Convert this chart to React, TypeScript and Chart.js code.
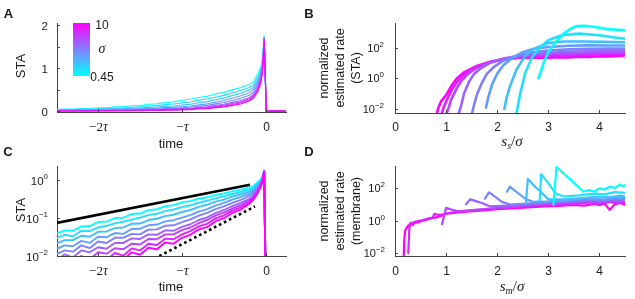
import React, { useEffect, useRef } from 'react';
import { Chart, registerables } from 'chart.js';
Chart.register(...registerables);

const SANS = '"Liberation Sans", Arial, Helvetica, sans-serif';
const SERIF = '"Liberation Serif", "Times New Roman", serif';
const AXIS = '#444444';
const TEXT = '#1a1a1a';

// colours from sigma = 0.45 (cyan) to sigma = 10 (magenta)
const COLORS = ['#00ffff', '#20dfff', '#40bfff', '#609fff', '#8080ff', '#9f60ff', '#bf40ff', '#df20ff', '#ff00ff'];

// ---------- Panels A / C : STA vs time (units of tau) ----------
const STA_TIME = [-2.5, -2.4, -2.3, -2.2, -2.1, -2.0, -1.9, -1.8, -1.7, -1.6, -1.5, -1.4, -1.3, -1.2, -1.1, -1.0, -0.9, -0.8, -0.7, -0.6, -0.5, -0.4, -0.3, -0.2, -0.15, -0.1, -0.06, -0.04, -0.02, 0.005, 0.24];
const STA_S0 = [0.038, 0.047, 0.046, 0.060, 0.061, 0.078, 0.080, 0.099, 0.101, 0.126, 0.130, 0.160, 0.169, 0.202, 0.216, 0.255, 0.276, 0.318, 0.347, 0.398, 0.436, 0.495, 0.55, 0.62, 0.68, 0.85, 1.02, 1.22, 1.74, 0, 0];
const STA_S1 = [0.029, 0.036, 0.033, 0.046, 0.045, 0.056, 0.062, 0.072, 0.079, 0.090, 0.102, 0.118, 0.128, 0.151, 0.166, 0.192, 0.214, 0.250, 0.281, 0.325, 0.367, 0.423, 0.478, 0.55, 0.60, 0.78, 0.96, 1.17, 1.73, 0, 0];
const STA_S2 = [0.021, 0.026, 0.026, 0.034, 0.032, 0.043, 0.044, 0.054, 0.056, 0.070, 0.071, 0.088, 0.095, 0.111, 0.121, 0.143, 0.161, 0.195, 0.221, 0.266, 0.303, 0.362, 0.418, 0.49, 0.55, 0.72, 0.92, 1.12, 1.72, 0, 0];
const STA_S3 = [0.015, 0.019, 0.018, 0.025, 0.022, 0.032, 0.031, 0.040, 0.038, 0.051, 0.052, 0.064, 0.067, 0.081, 0.087, 0.102, 0.118, 0.146, 0.170, 0.209, 0.247, 0.301, 0.357, 0.43, 0.50, 0.66, 0.87, 1.08, 1.71, 0, 0];
const STA_S4 = [0.011, 0.014, 0.013, 0.019, 0.016, 0.024, 0.022, 0.030, 0.030, 0.038, 0.037, 0.049, 0.050, 0.062, 0.064, 0.077, 0.091, 0.114, 0.135, 0.169, 0.201, 0.249, 0.298, 0.37, 0.44, 0.60, 0.82, 1.04, 1.70, 0, 0];
const STA_S5 = [0.0078, 0.011, 0.0092, 0.014, 0.0125, 0.017, 0.0155, 0.022, 0.022, 0.029, 0.028, 0.037, 0.036, 0.047, 0.046, 0.058, 0.068, 0.088, 0.103, 0.134, 0.161, 0.204, 0.248, 0.31, 0.38, 0.55, 0.77, 1.00, 1.69, 0, 0];
const STA_S6 = [0.0052, 0.0078, 0.0065, 0.0100, 0.0082, 0.0125, 0.0115, 0.0160, 0.0150, 0.0210, 0.0200, 0.0280, 0.0275, 0.037, 0.037, 0.048, 0.056, 0.073, 0.088, 0.115, 0.138, 0.176, 0.215, 0.29, 0.35, 0.51, 0.73, 0.96, 1.67, 0, 0];
const STA_S7 = [0.0036, 0.0052, 0.0043, 0.0070, 0.0058, 0.0090, 0.0078, 0.0120, 0.0102, 0.0158, 0.0140, 0.0210, 0.0195, 0.0285, 0.0275, 0.037, 0.045, 0.060, 0.070, 0.097, 0.117, 0.155, 0.190, 0.26, 0.32, 0.47, 0.70, 0.93, 1.65, 0, 0];
const STA_S8 = [0.0027, 0.0040, 0.0033, 0.0055, 0.0044, 0.0070, 0.0060, 0.0095, 0.0080, 0.0125, 0.0108, 0.0165, 0.0150, 0.0225, 0.0210, 0.030, 0.036, 0.050, 0.057, 0.082, 0.098, 0.135, 0.165, 0.235, 0.30, 0.44, 0.65, 0.90, 1.60, 0, 0];
const STA_CURVES = [STA_S0, STA_S1, STA_S2, STA_S3, STA_S4, STA_S5, STA_S6, STA_S7, STA_S8];

const BOUND_T = [-2.5, -0.19];
const BOUND_V = [0.073, 0.74];
const SLOPE_T = [-1.27, -0.13];
const SLOPE_V = [0.01, 0.2];

const TIME_TICKS = [-2, -1, 0];
const TIME_LABELS = ['−2τ', '−τ', '0'];
const A_Y_TICKS = [0, 0.5, 1, 1.5, 2];
const A_Y_LABELS = ['0', '', '1', '', '2'];
const C_Y_TICKS = [0.01, 0.1, 1];
const C_Y_LABELS = ['10^−2', '10^−1', '10^0'];

// ---------- Panel B : rate vs s_s / sigma ----------
const B_X0 = [2.81, 2.91, 3.0, 3.14, 3.3, 3.45, 3.56, 3.7, 3.89, 4.15, 4.35, 4.5];
const B_Y0 = [1.0, 10.5, 49, 225, 810, 1800, 2500, 2600, 2300, 1600, 1450, 1350];
const B_X1 = [2.37, 2.45, 2.55, 2.68, 2.84, 3.0, 3.26, 3.6, 4.0, 4.3, 4.5];
const B_Y1 = [0.004, 0.1, 2.3, 23, 105, 300, 630, 810, 630, 450, 380];
const B_X2 = [2.14, 2.18, 2.25, 2.38, 2.55, 2.71, 3.0, 3.3, 3.7, 4.1, 4.5];
const B_Y2 = [0.01, 0.05, 0.3, 3.8, 30, 80, 200, 250, 250, 235, 220];
const B_X3 = [1.78, 1.82, 1.9, 2.0, 2.12, 2.3, 2.5, 2.7, 3.0, 3.4, 3.8, 4.2, 4.5];
const B_Y3 = [0.012, 0.05, 0.4, 2, 7, 22, 50, 80, 110, 130, 138, 137, 135];
const B_X4 = [1.5, 1.55, 1.6, 1.7, 1.8, 1.95, 2.12, 2.4, 2.7, 3.0, 3.4, 3.8, 4.2, 4.5];
const B_Y4 = [0.004, 0.02, 0.08, 0.5, 2, 6, 14, 30, 50, 65, 76, 82, 85, 85];
const B_X5 = [1.24, 1.3, 1.35, 1.45, 1.55, 1.7, 1.86, 2.12, 2.4, 2.8, 3.2, 3.6, 4.0, 4.5];
const B_Y5 = [0.004, 0.02, 0.1, 0.6, 2, 5, 10, 19, 28, 40, 50, 56, 59, 60];
const B_X6 = [1.0, 1.05, 1.1, 1.2, 1.3, 1.45, 1.6, 1.86, 2.12, 2.4, 2.8, 3.2, 3.6, 4.0, 4.5];
const B_Y6 = [0.004, 0.012, 0.04, 0.2, 0.7, 2.2, 4.8, 11, 18, 25, 33, 38, 41, 44, 47];
const B_X7 = [0.9, 0.95, 1.0, 1.1, 1.2, 1.3, 1.45, 1.6, 1.86, 2.12, 2.4, 2.8, 3.2, 3.6, 4.0, 4.5];
const B_Y7 = [0.003, 0.012, 0.03, 0.15, 0.5, 1.2, 3, 5.5, 11, 17, 22, 26, 29, 32, 35, 38];
const B_X8 = [0.8, 0.85, 0.9, 1.0, 1.1, 1.2, 1.34, 1.6, 1.86, 2.12, 2.4, 2.8, 3.0, 3.2, 3.4, 3.6, 3.8, 4.0, 4.2, 4.5];
const B_Y8 = [0.003, 0.012, 0.03, 0.08, 0.3, 0.9, 2.3, 6.3, 12, 18, 21, 22, 21.5, 23.5, 22.5, 25, 24, 27, 26.5, 31];
const B_XS = [B_X0, B_X1, B_X2, B_X3, B_X4, B_X5, B_X6, B_X7, B_X8];
const B_YS = [B_Y0, B_Y1, B_Y2, B_Y3, B_Y4, B_Y5, B_Y6, B_Y7, B_Y8];

// ---------- Panel D : rate vs s_m / sigma ----------
const D_X0 = [3.1, 3.16, 3.4, 3.69, 3.8, 3.9, 4.0, 4.1, 4.2, 4.3, 4.4, 4.45, 4.5];
const D_Y0 = [8.7, 1950, 400, 59, 75, 60, 95, 80, 120, 100, 160, 130, 150];
const D_X1 = [2.83, 2.86, 3.0, 3.14, 3.3, 3.6, 3.9, 4.1, 4.3, 4.5];
const D_Y1 = [16, 700, 200, 47, 30, 35, 45, 40, 55, 50];
const D_X2 = [2.56, 2.6, 2.75, 2.88, 3.0, 3.3, 3.7, 4.0, 4.2, 4.4, 4.5];
const D_Y2 = [11, 360, 110, 47, 20, 20, 25, 30, 27, 34, 30];
const D_X3 = [2.19, 2.25, 2.4, 2.55, 2.7, 3.0, 3.4, 3.8, 4.1, 4.3, 4.5];
const D_Y3 = [59, 120, 50, 22, 14, 15, 18, 22, 20, 26, 24];
const D_X4 = [1.76, 1.84, 1.95, 2.09, 2.25, 2.6, 3.0, 3.4, 3.8, 4.1, 4.3, 4.5];
const D_Y4 = [22, 54, 30, 14, 9.5, 11, 13.5, 16, 19, 17, 22, 20];
const D_X5 = [1.39, 1.47, 1.6, 1.7, 1.85, 2.2, 2.6, 3.0, 3.4, 3.8, 4.0, 4.2, 4.35, 4.5];
const D_Y5 = [10, 20, 15, 12, 7.5, 8.2, 9.8, 12, 14, 17, 15, 19, 16, 20];
const D_X6 = [0.92, 0.97, 1.0, 1.1, 1.2, 1.3, 1.5, 1.8, 2.2, 2.6, 3.0, 3.4, 3.8, 4.0, 4.2, 4.35, 4.5];
const D_Y6 = [0.6, 2.5, 6, 4.8, 3.9, 3.8, 4.3, 5.3, 6.7, 8.2, 10, 12, 14, 12, 16, 13, 17];
const D_X7 = [0.26, 0.28, 0.3, 0.35, 0.4, 0.5, 0.6, 0.7, 0.74, 0.77, 0.85, 0.95, 1.1, 1.3, 1.6, 2.0, 2.4, 2.8, 3.2, 3.6, 3.8, 4.0, 4.2, 4.3, 4.4, 4.5];
const D_Y7 = [0.01, 0.3, 0.7, 0.75, 0.85, 1.0, 1.2, 1.45, 1.5, 2.6, 2.2, 2.4, 3.1, 3.6, 4.3, 5.5, 6.8, 8.3, 9.6, 11, 13, 10, 14, 12, 15, 13];
const D_X8 = [0.17, 0.18, 0.2, 0.22, 0.25, 0.3, 0.35, 0.4, 0.45, 0.5, 0.6, 0.7, 0.8, 0.9, 1.0, 1.2, 1.4, 1.6, 1.8, 2.0, 2.3, 2.6, 2.9, 3.2, 3.5, 3.7, 3.9, 4.0, 4.1, 4.2, 4.3, 4.4, 4.5];
const D_Y8 = [0.004, 0.06, 0.25, 0.32, 0.45, 0.6, 0.55, 0.8, 0.75, 0.9, 1.1, 1.35, 1.55, 1.9, 2.6, 3.0, 3.5, 3.9, 4.4, 5.0, 5.6, 6.4, 7.4, 8.0, 9.0, 8.2, 10.5, 8.8, 11, 4.5, 10, 12, 9.5];
const D_XS = [D_X0, D_X1, D_X2, D_X3, D_X4, D_X5, D_X6, D_X7, D_X8];
const D_YS = [D_Y0, D_Y1, D_Y2, D_Y3, D_Y4, D_Y5, D_Y6, D_Y7, D_Y8];

const S_TICKS = [0, 1, 2, 3, 4];
const S_LABELS = ['0', '1', '2', '3', '4'];
const R_Y_TICKS = [0.01, 1, 100];
const R_Y_LABELS = ['10^−2', '10^0', '10^2'];

// ---------- drawing helpers ----------
function drawLabel(ctx: CanvasRenderingContext2D, label: string, x: number, yc: number, align: 'center' | 'right', size: number) {
  if (!label) return;
  const runs: { t: string; f: string; dy: number }[] = [];
  if (label.includes('^')) {
    const [b, e] = label.split('^');
    runs.push({ t: b, f: `${size}px ${SANS}`, dy: 0 });
    runs.push({ t: e, f: `${Math.round(size * 0.7)}px ${SANS}`, dy: -size * 0.48 });
  } else if (label.endsWith('τ')) {
    const pre = label.slice(0, -1);
    if (pre) runs.push({ t: pre, f: `${size + 1}px ${SERIF}`, dy: 0 });
    runs.push({ t: 'τ', f: `italic ${size + 2}px ${SERIF}`, dy: 0 });
  } else {
    runs.push({ t: label, f: `${size}px ${SANS}`, dy: 0 });
  }
  let w = 0;
  for (const r of runs) { ctx.font = r.f; w += ctx.measureText(r.t).width; }
  let cx = align === 'center' ? x - w / 2 : x - w;
  const base = yc + size * 0.36;
  ctx.fillStyle = TEXT;
  ctx.textBaseline = 'alphabetic';
  ctx.textAlign = 'left';
  for (const r of runs) {
    ctx.font = r.f;
    ctx.fillText(r.t, cx, base + r.dy);
    cx += ctx.measureText(r.t).width;
  }
}

type TickCfg = { xTicks: number[]; xLabels: string[]; yTicks: number[]; yLabels: string[]; xSize: number; ySize: number; xGap: number; yGap: number };

function makeTickPlugin(c: TickCfg) {
  return {
    id: 'richTicks',
    afterDraw(chart: any) {
      const { ctx, chartArea, scales } = chart;
      ctx.save();
      ctx.strokeStyle = AXIS;
      ctx.lineWidth = 1;
      c.xTicks.forEach((v, i) => {
        const px = Math.round(scales.x.getPixelForValue(v)) + 0.5;
        ctx.beginPath();
        ctx.moveTo(px, chartArea.bottom);
        ctx.lineTo(px, chartArea.bottom - 3);
        ctx.stroke();
        drawLabel(ctx, c.xLabels[i], px, chartArea.bottom + c.xGap, 'center', c.xSize);
      });
      c.yTicks.forEach((v, i) => {
        const py = Math.round(scales.y.getPixelForValue(v)) + 0.5;
        ctx.beginPath();
        ctx.moveTo(chartArea.left, py);
        ctx.lineTo(chartArea.left + 3, py);
        ctx.stroke();
        drawLabel(ctx, c.yLabels[i], chartArea.left - c.yGap, py, 'right', c.ySize);
      });
      ctx.restore();
    },
  };
}

function scale(type: string, min: number, max: number, axis: 'x' | 'y', size: number) {
  return {
    type, min, max,
    afterFit: (s: any) => { if (axis === 'x') s.height = size; else s.width = size; },
    grid: { display: false, drawTicks: false },
    border: { display: true, color: AXIS, width: 1 },
    ticks: { display: false },
  };
}

type PanelCfg = {
  left: number; top: number; width: number; height: number;
  padding: { left: number; top: number; right: number; bottom: number };
  x: any; y: any; datasets: any[]; ticks: TickCfg;
};

function Panel({ cfg }: { cfg: PanelCfg }) {
  const ref = useRef<HTMLCanvasElement>(null);
  useEffect(() => {
    const chart = new Chart(ref.current as HTMLCanvasElement, {
      type: 'scatter',
      data: { datasets: cfg.datasets },
      options: {
        responsive: false,
        animation: false,
        devicePixelRatio: 1,
        events: [],
        layout: { padding: cfg.padding, autoPadding: false } as any,
        plugins: { legend: { display: false }, tooltip: { enabled: false } },
        scales: { x: cfg.x, y: cfg.y },
      } as any,
      plugins: [makeTickPlugin(cfg.ticks) as any],
    });
    return () => chart.destroy();
  }, []);
  return (
    <canvas ref={ref} width={cfg.width} height={cfg.height}
      style={{ position: 'absolute', left: cfg.left, top: cfg.top, width: cfg.width, height: cfg.height }} />
  );
}

function line(points: { x: number; y: number }[], color: string, width: number, extra: any = {}) {
  return {
    data: points, borderColor: color, backgroundColor: color, borderWidth: width,
    showLine: true, pointRadius: 0, tension: 0, clip: 0,
    borderJoinStyle: 'round', borderCapStyle: 'round', ...extra,
  };
}

const ORDER_MAGENTA_TOP = [8, 7, 6, 5, 4, 3, 2, 1, 0];
const ORDER_CYAN_TOP = [0, 1, 2, 3, 4, 5, 6, 7, 8];

const cfgA: PanelCfg = {
  left: 0, top: 0, width: 300, height: 150,
  padding: { left: 7, top: 23, right: 14, bottom: 8 },
  x: scale('linear', -2.49, 0.24, 'x', 30),
  y: scale('linear', -0.02, 2.05, 'y', 50),
  datasets: ORDER_MAGENTA_TOP.map((k) =>
    line(STA_TIME.map((t, i) => ({ x: t, y: STA_CURVES[k][i] })), COLORS[k], 1.1)),
  ticks: { xTicks: TIME_TICKS, xLabels: TIME_LABELS, yTicks: A_Y_TICKS, yLabels: A_Y_LABELS, xSize: 12, ySize: 11.5, xGap: 14.5, yGap: 9 },
};

const cfgC: PanelCfg = {
  left: 0, top: 150, width: 300, height: 149,
  padding: { left: 7, top: 16, right: 14, bottom: 13 },
  x: scale('linear', -2.49, 0.24, 'x', 30),
  y: scale('logarithmic', 0.01, 2.3, 'y', 50),
  datasets: [
    line(BOUND_T.map((t, i) => ({ x: t, y: BOUND_V[i] })), '#000000', 2.6, { borderCapStyle: 'butt' }),
    line(SLOPE_T.map((t, i) => ({ x: t, y: SLOPE_V[i] })), '#000000', 2.6, { borderDash: [2.6, 3], borderCapStyle: 'butt' }),
    ...ORDER_MAGENTA_TOP.map((k) =>
      line(STA_TIME.slice(0, -1).map((t, i) => ({ x: t, y: STA_CURVES[k][i] === 0 ? 1e-4 : STA_CURVES[k][i] })), COLORS[k], 1.9)),
  ],
  ticks: { xTicks: TIME_TICKS, xLabels: TIME_LABELS, yTicks: C_Y_TICKS, yLabels: C_Y_LABELS, xSize: 12, ySize: 11.5, xGap: 15, yGap: 9 },
};

const cfgB: PanelCfg = {
  left: 310, top: 0, width: 325, height: 150,
  padding: { left: 35, top: 23, right: 10, bottom: 7 },
  x: scale('linear', 0, 4.5, 'x', 30),
  y: scale('logarithmic', 0.0054, 4000, 'y', 50),
  datasets: ORDER_CYAN_TOP.map((k) =>
    line(B_XS[k].map((x, i) => ({ x, y: B_YS[k][i] })), COLORS[k], 2.6)),
  ticks: { xTicks: S_TICKS, xLabels: S_LABELS, yTicks: R_Y_TICKS, yLabels: R_Y_LABELS, xSize: 12, ySize: 11, xGap: 14, yGap: 11 },
};

const cfgD: PanelCfg = {
  left: 310, top: 150, width: 325, height: 149,
  padding: { left: 35, top: 16, right: 10, bottom: 13 },
  x: scale('linear', 0, 4.5, 'x', 30),
  y: scale('logarithmic', 0.0066, 2240, 'y', 50),
  datasets: ORDER_CYAN_TOP.map((k) =>
    line(D_XS[k].map((x, i) => ({ x, y: D_YS[k][i] })), COLORS[k], 2.2)),
  ticks: { xTicks: S_TICKS, xLabels: S_LABELS, yTicks: R_Y_TICKS, yLabels: R_Y_LABELS, xSize: 12, ySize: 11, xGap: 15, yGap: 10 },
};

function Txt({ x, y, children, size = 13, bold = false, rotate = false, family = SANS, italic = false }: any) {
  return (
    <div style={{
      position: 'absolute', left: x, top: y, whiteSpace: 'nowrap', lineHeight: 1,
      transform: `translate(-50%, -50%)${rotate ? ' rotate(-90deg)' : ''}`,
      fontFamily: family, fontSize: size, fontWeight: bold ? 700 : 400,
      fontStyle: italic ? 'italic' : 'normal', color: TEXT,
    }}>{children}</div>
  );
}

function SLabel({ sub }: { sub: string }) {
  return (
    <span style={{ fontFamily: SERIF, fontSize: 15 }}>
      <i>s</i><i style={{ fontSize: 10, position: 'relative', top: 3 }}>{sub}</i>/<i>σ</i>
    </span>
  );
}

export default function App() {
  return (
    <div style={{ position: 'absolute', left: 0, top: 0, width: 635, height: 299, background: '#ffffff', overflow: 'hidden' }}>
      <Panel cfg={cfgA} />
      <Panel cfg={cfgB} />
      <Panel cfg={cfgC} />
      <Panel cfg={cfgD} />

      {/* colorbar */}
      <div style={{ position: 'absolute', left: 73, top: 23, width: 17, height: 53, background: 'linear-gradient(to bottom, #ff00ff, #8080ff, #00ffff)' }} />
      <Txt x={102} y={25} size={12}>10</Txt>
      <Txt x={102} y={49} size={14} family={SERIF} italic>σ</Txt>
      <Txt x={102} y={77} size={12}>0.45</Txt>

      {/* panel letters */}
      <Txt x={8.5} y={12.5} size={13} bold>A</Txt>
      <Txt x={309} y={12.5} size={13} bold>B</Txt>
      <Txt x={8} y={151} size={13} bold>C</Txt>
      <Txt x={309} y={151} size={13} bold>D</Txt>

      {/* axis titles */}
      <Txt x={20} y={66} size={13} rotate>STA</Txt>
      <Txt x={171} y={143} size={13}>time</Txt>
      <Txt x={20} y={210} size={13} rotate>STA</Txt>
      <Txt x={171} y={286} size={13}>time</Txt>

      <Txt x={323.5} y={68} size={12.5} rotate>normalized</Txt>
      <Txt x={339.5} y={68} size={12.5} rotate>estimated rate</Txt>
      <Txt x={355.5} y={68} size={12.5} rotate>(STA)</Txt>
      <Txt x={512} y={141}><SLabel sub="s" /></Txt>

      <Txt x={323.5} y={211} size={12.5} rotate>normalized</Txt>
      <Txt x={339.5} y={211} size={12.5} rotate>estimated rate</Txt>
      <Txt x={355.5} y={211} size={12.5} rotate>(membrane)</Txt>
      <Txt x={512} y={286}><SLabel sub="m" /></Txt>
    </div>
  );
}
